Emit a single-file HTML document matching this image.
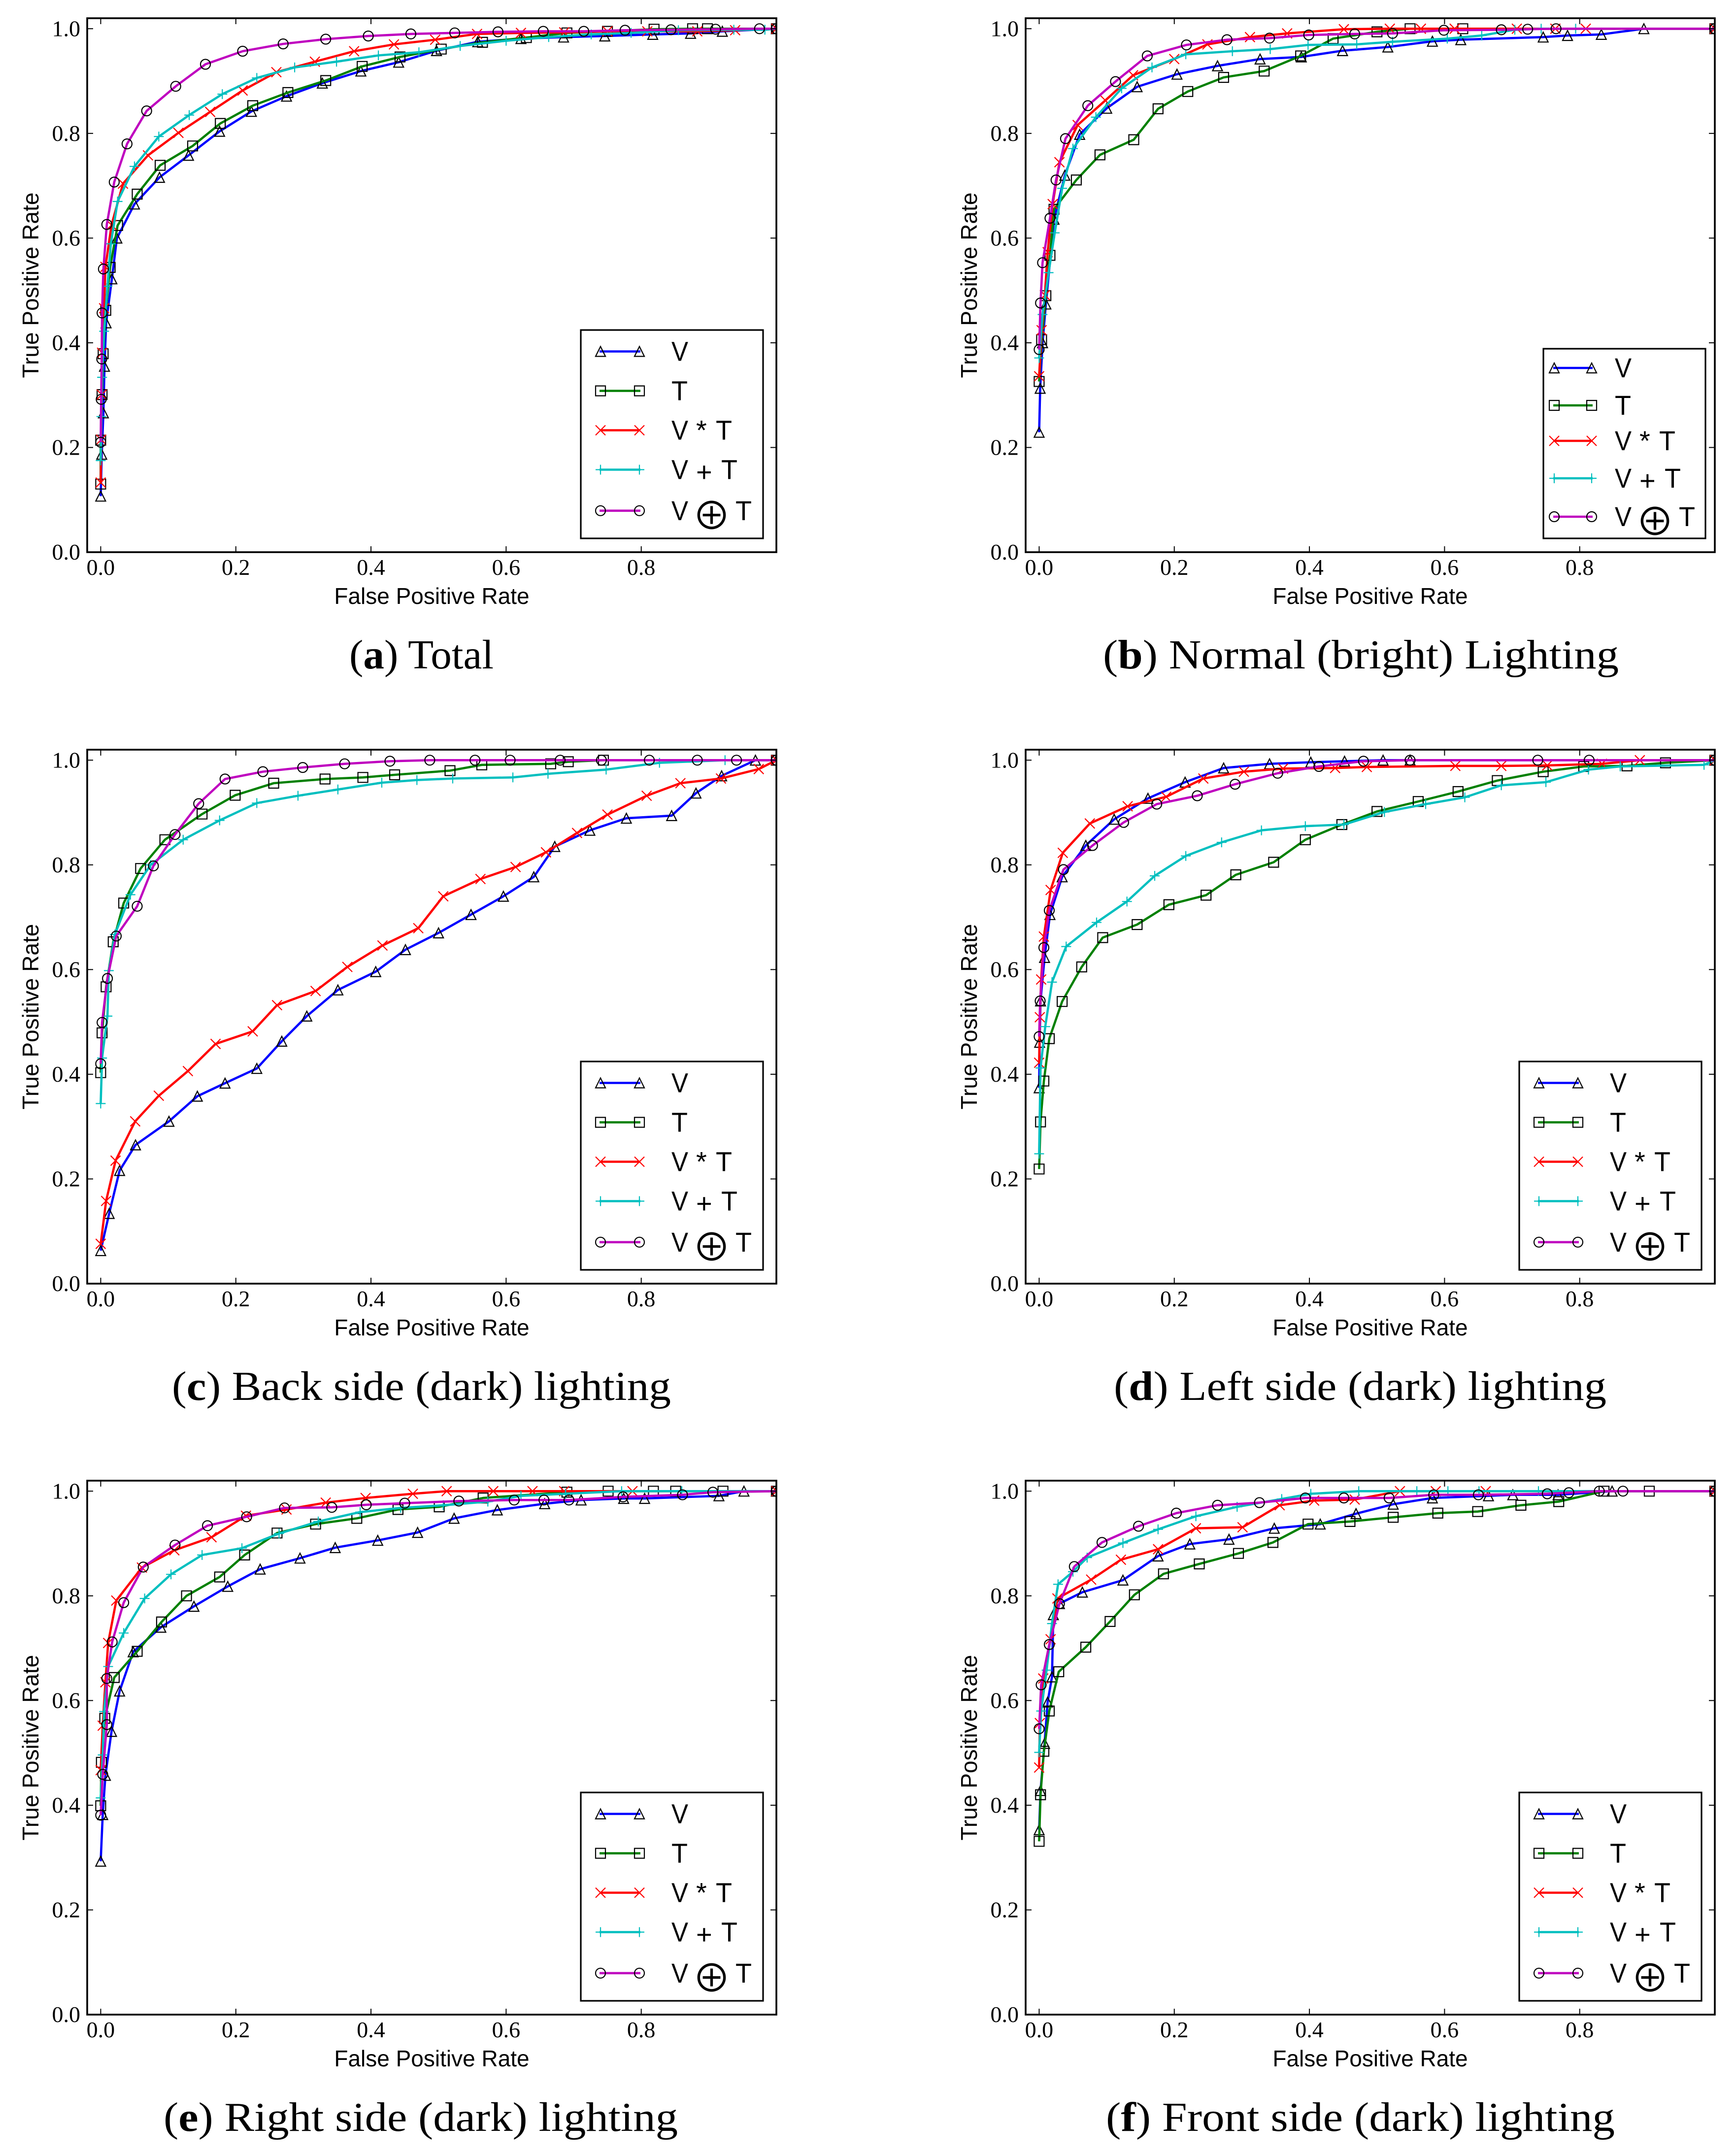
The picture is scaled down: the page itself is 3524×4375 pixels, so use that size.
<!DOCTYPE html>
<html lang="en">
<head>
<meta charset="utf-8">
<title>ROC curves under six lighting conditions</title>
<style>
html,body{margin:0;padding:0;background:#fff}
svg{display:block}
text{fill:#000}
.cap{font-family:"Liberation Serif",serif;font-size:84px}
</style>
</head>
<body>
<svg id="fig" xmlns="http://www.w3.org/2000/svg" width="3524" height="4375" viewBox="0 0 3524 4375">
<rect x="0" y="0" width="3524" height="4375" fill="#fff"/>
<text class="cap" x="709" y="1357" textLength="293" lengthAdjust="spacingAndGlyphs">(<tspan font-weight="bold">a</tspan>) Total</text>
<text class="cap" x="2239" y="1357" textLength="1047" lengthAdjust="spacingAndGlyphs">(<tspan font-weight="bold">b</tspan>) Normal (bright) Lighting</text>
<text class="cap" x="349" y="2842" textLength="1013" lengthAdjust="spacingAndGlyphs">(<tspan font-weight="bold">c</tspan>) Back side (dark) lighting</text>
<text class="cap" x="2261" y="2842" textLength="1000" lengthAdjust="spacingAndGlyphs">(<tspan font-weight="bold">d</tspan>) Left side (dark) lighting</text>
<text class="cap" x="332" y="4326" textLength="1044" lengthAdjust="spacingAndGlyphs">(<tspan font-weight="bold">e</tspan>) Right side (dark) lighting</text>
<text class="cap" x="2245" y="4326" textLength="1033" lengthAdjust="spacingAndGlyphs">(<tspan font-weight="bold">f</tspan>) Front side (dark) lighting</text>
</svg>
<script>
// ---------- tick values and labels ----------
const xTickValues=[0,0.2,0.4,0.6,0.8];
const xTickLabels=["0.0","0.2","0.4","0.6","0.8"];
const yTickValues=[0,0.2,0.4,0.6,0.8,1];
const yTickLabels=["0.0","0.2","0.4","0.6","0.8","1.0"];
const xAxisTitle="False Positive Rate";
const yAxisTitle="True Positive Rate";

// ---------- panel a: Total ----------
const a_V_fpr=[0,.0015,.004,.0056,.008,.0165,.024,.05,.087,.13,.176,.223,.275,.328,.385,.441,.497,.558,.622,.685,.746,.817,.873,.92,1];
const a_V_tpr=[.107,.187,.266,.355,.438,.522,.6,.665,.716,.758,.804,.842,.871,.896,.919,.936,.958,.975,.981,.984,.986,.989,.991,.995,1];
const a_T_fpr=[0,0,.002,.0036,.0075,.014,.025,.054,.088,.136,.177,.225,.277,.333,.387,.443,.504,.565,.63,.69,.75,.819,.876,.898,1];
const a_T_tpr=[.13,.214,.301,.379,.462,.544,.624,.684,.739,.776,.819,.853,.878,.901,.928,.946,.961,.974,.983,.992,.995,.999,1,1,1];
const a_VT_fpr=[0,.0007,.0015,.002,.005,.007,.016,.033,.07,.115,.162,.21,.26,.317,.375,.434,.495,.557,.622,.686,.75,.809,.883,.939,1];
const a_VT_tpr=[.133,.215,.301,.381,.466,.545,.625,.704,.758,.801,.841,.882,.917,.937,.957,.97,.979,.99,.992,.993,.995,.995,.995,.997,1];
const a_VpT_fpr=[0,.001,.002,.005,.01,.015,.025,.05,.086,.131,.18,.231,.287,.349,.411,.471,.532,.6,.663,.726,.785,.855,.937,.983,1];
const a_VpT_tpr=[.175,.259,.334,.422,.508,.589,.67,.737,.794,.835,.875,.906,.926,.937,.949,.955,.967,.977,.984,.989,.992,.997,.998,.998,1];
const a_VoT_fpr=[0,.0007,.0015,.002,.004,.009,.02,.039,.068,.111,.155,.21,.27,.333,.396,.459,.524,.588,.655,.715,.776,.844,.91,.975,1];
const a_VoT_tpr=[.21,.292,.369,.457,.541,.626,.707,.78,.843,.89,.932,.957,.971,.98,.986,.99,.992,.994,.995,.995,.997,.998,.999,1,1];

// ---------- panel b: Normal (bright) Lighting ----------
const b_V_fpr=[0,.0015,.005,.01,.022,.038,.06,.1,.145,.204,.264,.327,.388,.449,.516,.582,.624,.746,.782,.832,.895,1];
const b_V_tpr=[.229,.313,.4,.474,.636,.72,.798,.848,.889,.913,.929,.942,.946,.958,.965,.976,.979,.984,.987,.989,1,1];
const b_T_fpr=[0,.0036,.01,.016,.022,.055,.09,.14,.176,.22,.273,.333,.387,.435,.5,.549,.627,1];
const b_T_tpr=[.326,.406,.49,.567,.655,.711,.759,.788,.847,.88,.907,.919,.948,.981,.994,1,1,1];
const b_VT_fpr=[0,.0036,.0085,.0126,.02,.03,.057,.098,.139,.2,.249,.312,.367,.451,.519,.565,.615,.707,.764,.809,1];
const b_VT_tpr=[.336,.424,.491,.573,.665,.745,.816,.863,.911,.942,.97,.984,.991,.999,1,1,1,1,1,1,1];
const b_VpT_fpr=[0,.005,.014,.023,.034,.05,.084,.122,.167,.217,.286,.342,.398,.47,.523,.604,.655,.704,.743,.794,1];
const b_VpT_tpr=[.371,.454,.534,.61,.695,.771,.831,.886,.926,.951,.957,.961,.969,.97,.975,.981,.987,.998,1,1,1];
const b_VoT_fpr=[0,.002,.005,.016,.025,.039,.072,.113,.16,.218,.278,.341,.399,.467,.523,.599,.684,.723,.765,1];
const b_VoT_tpr=[.387,.476,.553,.638,.711,.79,.853,.899,.948,.969,.979,.982,.988,.99,.991,.997,.998,.999,1,1];

// ---------- panel c: Back side (dark) lighting ----------
const c_V_fpr=[0,.0125,.028,.0515,.101,.143,.184,.231,.268,.305,.351,.407,.451,.5,.548,.596,.641,.672,.724,.778,.845,.881,.919,.969,1];
const c_V_tpr=[.063,.134,.216,.265,.31,.358,.383,.411,.463,.511,.561,.596,.638,.67,.705,.74,.777,.835,.866,.889,.894,.937,.97,1,1];
const c_T_fpr=[0,.002,.008,.0185,.034,.059,.095,.15,.199,.256,.332,.388,.435,.517,.564,.666,.692,.744,1];
const c_T_tpr=[.403,.479,.567,.653,.727,.793,.848,.897,.933,.956,.964,.967,.972,.98,.991,.993,.997,1,1];
const c_VT_fpr=[0,.008,.022,.051,.086,.129,.17,.225,.261,.318,.365,.417,.47,.507,.562,.614,.659,.705,.75,.808,.858,.918,.974,1];
const c_VT_tpr=[.076,.158,.235,.31,.359,.406,.458,.482,.532,.559,.605,.646,.679,.74,.773,.796,.824,.861,.896,.932,.956,.965,.983,1];
const c_VpT_fpr=[0,.002,.01,.012,.021,.044,.074,.122,.176,.231,.292,.351,.416,.468,.521,.61,.662,.748,.827,.924,1];
const c_VpT_tpr=[.344,.431,.511,.598,.667,.743,.8,.848,.885,.918,.932,.944,.957,.962,.965,.967,.974,.982,.995,1,1];
const c_VoT_fpr=[0,.002,.01,.023,.054,.078,.11,.145,.184,.24,.299,.361,.428,.487,.554,.606,.68,.741,.812,.883,.941,1];
const c_VoT_tpr=[.42,.499,.583,.664,.721,.798,.858,.917,.964,.978,.986,.993,.998,1,1,1,1,1,1,1,1,1];

// ---------- panel d: Left side (dark) lighting ----------
const d_V_fpr=[0,.0007,.002,.008,.016,.034,.069,.111,.161,.216,.273,.341,.402,.452,.509,.549,1];
const d_V_tpr=[.374,.461,.54,.623,.705,.777,.837,.887,.927,.958,.985,.993,.996,.998,1,1,1];
const d_T_fpr=[0,.002,.007,.015,.034,.063,.094,.145,.192,.247,.291,.347,.394,.448,.5,.561,.62,.678,.746,.806,.87,.927,1];
const d_T_tpr=[.219,.309,.387,.468,.539,.605,.661,.686,.724,.742,.781,.805,.848,.877,.902,.921,.94,.961,.978,.988,.989,.995,1];
const d_VT_fpr=[0,.001,.003,.007,.017,.035,.075,.131,.188,.243,.303,.361,.438,.485,.616,.684,.752,.833,.889,1];
const d_VT_tpr=[.422,.509,.581,.663,.752,.823,.879,.912,.93,.965,.978,.984,.985,.987,.989,.989,.99,.993,1,1];
const d_VpT_fpr=[0,.002,.009,.019,.04,.085,.13,.171,.217,.27,.329,.394,.451,.511,.572,.63,.684,.75,.813,.86,.984,1];
const d_VpT_tpr=[.248,.412,.491,.576,.644,.69,.73,.779,.817,.843,.866,.874,.877,.901,.916,.929,.952,.958,.982,.988,.991,1];
const d_VoT_fpr=[0,.0015,.007,.015,.036,.079,.125,.174,.234,.29,.353,.414,.48,.549,.738,.814,1];
const d_VoT_tpr=[.472,.54,.642,.713,.791,.837,.881,.916,.932,.954,.975,.988,.998,1,1,1,1];

// ---------- panel e: Right side (dark) lighting ----------
const e_V_fpr=[0,.003,.007,.016,.028,.048,.089,.138,.188,.236,.295,.347,.41,.469,.523,.587,.657,.711,.774,.805,.915,.952,1];
const e_V_tpr=[.293,.382,.457,.541,.618,.693,.74,.78,.818,.851,.872,.892,.906,.921,.948,.964,.976,.983,.986,.986,.991,1,1];
const e_T_fpr=[0,.001,.006,.02,.054,.09,.127,.176,.213,.261,.318,.379,.44,.501,.566,.69,.751,.818,.851,.921,1];
const e_T_tpr=[.399,.482,.566,.644,.694,.75,.8,.836,.878,.92,.937,.948,.965,.97,.987,.998,1,1,1,1,1];
const e_VT_fpr=[0,.003,.007,.011,.023,.061,.109,.164,.215,.275,.333,.392,.462,.512,.581,.639,.686,.787,1];
const e_VT_tpr=[.467,.552,.635,.71,.791,.854,.887,.912,.953,.965,.978,.987,.995,1,1,1,1,1,1];
const e_VpT_fpr=[0,.003,.005,.011,.034,.065,.104,.15,.209,.264,.322,.384,.444,.507,.573,.622,.688,.771,.86,1];
const e_VpT_tpr=[.414,.496,.579,.665,.729,.795,.841,.878,.891,.919,.942,.96,.968,.973,.98,.991,.995,1,1,1];
const e_VoT_fpr=[0,.003,.009,.009,.017,.034,.063,.11,.158,.216,.272,.342,.393,.45,.53,.612,.656,.693,.773,.861,.906,1];
const e_VoT_tpr=[.381,.459,.554,.642,.712,.787,.855,.897,.934,.951,.968,.969,.974,.977,.981,.983,.983,.983,.989,.993,.998,1];

// ---------- panel f: Front side (dark) lighting ----------
const f_V_fpr=[0,.002,.008,.0125,.019,.021,.03,.064,.124,.176,.223,.281,.348,.416,.469,.524,.582,.665,.701,.768,.848,1];
const f_V_tpr=[.353,.428,.518,.597,.645,.764,.785,.807,.83,.876,.899,.908,.929,.937,.957,.975,.987,.991,.993,.993,1,1];
const f_T_fpr=[0,.002,.007,.015,.029,.069,.105,.141,.184,.237,.295,.346,.398,.46,.524,.59,.649,.713,.769,.836,.903,1];
const f_T_tpr=[.331,.42,.503,.58,.655,.702,.751,.802,.842,.861,.881,.902,.937,.942,.95,.958,.961,.973,.98,1,1,1];
const f_VT_fpr=[0,.001,.006,.017,.027,.077,.121,.176,.232,.301,.356,.407,.467,.534,.587,.661,1];
const f_VT_tpr=[.472,.557,.642,.717,.795,.831,.869,.889,.929,.931,.973,.982,.984,1,1,1,1];
const f_VpT_fpr=[0,.003,.011,.019,.028,.05,.071,.124,.176,.232,.293,.359,.402,.473,.559,.605,.651,.739,1];
const f_VpT_tpr=[.501,.58,.658,.747,.822,.846,.873,.901,.927,.952,.97,.985,.995,1,1,1,1,1,1];
const f_VoT_fpr=[0,.003,.015,.03,.052,.093,.147,.203,.264,.326,.394,.451,.518,.584,.65,.752,.784,.829,.864,1];
const f_VoT_tpr=[.546,.63,.707,.785,.856,.902,.933,.958,.973,.978,.987,.987,.987,.993,.993,.995,.997,1,1,1];

// ---------- axis limits ----------
const XMIN=-0.02, XMAX=1.0, YMIN=0, YMAX=1.02;
const PW=1399, PH=1084;
const NS="http://www.w3.org/2000/svg";
const svg=document.getElementById('fig');

const styles={
  V:  {color:'#0000ff',marker:'triangle',edge:'#000'},
  T:  {color:'#008000',marker:'square',edge:'#000'},
  VT: {color:'#ff0000',marker:'x',edge:'#ff0000'},
  VpT:{color:'#00bfbf',marker:'plus',edge:'#00bfbf'},
  VoT:{color:'#bf00bf',marker:'circle',edge:'#000'}
};
const seriesOrder=['V','T','VT','VpT','VoT'];

const wideLegend={dx:1002,dy:633,w:370,h:423,rows:[43.5,123.5,203.5,283.5,366.8],h0:40,h1:119,tx:184};
const panels=[
 {id:'a',left:177,top:37,legend:wideLegend,data:{V:[a_V_fpr,a_V_tpr],T:[a_T_fpr,a_T_tpr],VT:[a_VT_fpr,a_VT_tpr],VpT:[a_VpT_fpr,a_VpT_tpr],VoT:[a_VoT_fpr,a_VoT_tpr]}},
 {id:'b',left:2082,top:37,legend:{dx:1051,dy:671,w:329,h:385,rows:[39,115,187,263,341],h0:22,h1:98,tx:145},data:{V:[b_V_fpr,b_V_tpr],T:[b_T_fpr,b_T_tpr],VT:[b_VT_fpr,b_VT_tpr],VpT:[b_VpT_fpr,b_VpT_tpr],VoT:[b_VoT_fpr,b_VoT_tpr]}},
 {id:'c',left:177,top:1522,legend:wideLegend,data:{V:[c_V_fpr,c_V_tpr],T:[c_T_fpr,c_T_tpr],VT:[c_VT_fpr,c_VT_tpr],VpT:[c_VpT_fpr,c_VpT_tpr],VoT:[c_VoT_fpr,c_VoT_tpr]}},
 {id:'d',left:2082,top:1522,legend:wideLegend,data:{V:[d_V_fpr,d_V_tpr],T:[d_T_fpr,d_T_tpr],VT:[d_VT_fpr,d_VT_tpr],VpT:[d_VpT_fpr,d_VpT_tpr],VoT:[d_VoT_fpr,d_VoT_tpr]}},
 {id:'e',left:177,top:3006,legend:wideLegend,data:{V:[e_V_fpr,e_V_tpr],T:[e_T_fpr,e_T_tpr],VT:[e_VT_fpr,e_VT_tpr],VpT:[e_VpT_fpr,e_VpT_tpr],VoT:[e_VoT_fpr,e_VoT_tpr]}},
 {id:'f',left:2082,top:3006,legend:wideLegend,data:{V:[f_V_fpr,f_V_tpr],T:[f_T_fpr,f_T_tpr],VT:[f_VT_fpr,f_VT_tpr],VpT:[f_VpT_fpr,f_VpT_tpr],VoT:[f_VoT_fpr,f_VoT_tpr]}}
];

function sx(p,v){return p.left+(v-XMIN)/(XMAX-XMIN)*PW;}
function sy(p,v){return p.top+(YMAX-v)/(YMAX-YMIN)*PH;}
function make(tag,parent){const e=document.createElementNS(NS,tag);parent.appendChild(e);return e;}

function drawMarker(parent,kind,x,y,edge){
  const m=make('path',parent);
  
  
  const r=10;let d='';
  if(kind==='triangle') d=`M${x} ${y-r}L${x-r} ${y+r}L${x+r} ${y+r}Z`;
  if(kind==='square') d=`M${x-r} ${y-r}H${x+r}V${y+r}H${x-r}Z`;
  if(kind==='circle') d=`M${x-r} ${y}A${r} ${r} 0 1 1 ${x+r} ${y}A${r} ${r} 0 1 1 ${x-r} ${y}Z`;
  if(kind==='x') d=`M${x-r} ${y-r}L${x+r} ${y+r}M${x-r} ${y+r}L${x+r} ${y-r}`;
  if(kind==='plus') d=`M${x-r} ${y}H${x+r}M${x} ${y-r}V${y+r}`;
  m.setAttribute('d',d);
  m.setAttribute('fill','none');
  m.setAttribute('stroke',edge);
  m.setAttribute('stroke-width','2.2');
}

function glyph(parent,str,x,y,len){
  const t=make('text',parent);
  
  
  t.setAttribute('x',x);
  t.setAttribute('y',y);
  t.setAttribute('font-family','"Liberation Sans",sans-serif');
  t.setAttribute('font-size','56');
  if(len){t.setAttribute('textLength',len);t.setAttribute('lengthAdjust','spacingAndGlyphs');}
  t.textContent=str;
  return t;
}

panels.forEach(function(p){
  const g=make('g',svg);
  
  

  const defs=make('defs',g);
  const clip=make('clipPath',defs);
  clip.setAttribute('id','clip-'+p.id);
  const cr=make('rect',clip);
  cr.setAttribute('x',p.left);cr.setAttribute('y',p.top);cr.setAttribute('width',PW);cr.setAttribute('height',PH);

  // series
  const plot=make('g',g);
  
  
  plot.setAttribute('clip-path','url(#clip-'+p.id+')');
  seriesOrder.forEach(function(key){
    const st=styles[key];
    const fpr=p.data[key][0], tpr=p.data[key][1];
    const sg=make('g',plot);
    
    
    const line=make('polyline',sg);
    
    
    line.setAttribute('points',fpr.map(function(v,i){return sx(p,v).toFixed(1)+','+sy(p,tpr[i]).toFixed(1);}).join(' '));
    line.setAttribute('fill','none');
    line.setAttribute('stroke',st.color);
    line.setAttribute('stroke-width','4.6');
    line.setAttribute('stroke-linejoin','round');
    fpr.forEach(function(v,i){drawMarker(sg,st.marker,+sx(p,v).toFixed(1),+sy(p,tpr[i]).toFixed(1),st.edge);});
  });

  // frame
  const frame=make('rect',g);
  
  
  frame.setAttribute('x',p.left);frame.setAttribute('y',p.top);
  frame.setAttribute('width',PW);frame.setAttribute('height',PH);
  frame.setAttribute('fill','none');frame.setAttribute('stroke','#000');frame.setAttribute('stroke-width','3.6');

  // x ticks
  xTickValues.forEach(function(v,i){
    const x=sx(p,v);
    [[p.top+PH,p.top+PH-12],[p.top,p.top+12]].forEach(function(e){
      const t=make('line',g);
      
      
      t.setAttribute('x1',x);t.setAttribute('x2',x);t.setAttribute('y1',e[0]);t.setAttribute('y2',e[1]);
      t.setAttribute('stroke','#000');t.setAttribute('stroke-width','2');
    });
    const l=make('text',g);
    
    
    l.setAttribute('x',x);l.setAttribute('y',p.top+PH+46);
    l.setAttribute('text-anchor','middle');
    l.setAttribute('font-family','"Liberation Serif",serif');l.setAttribute('font-size','46');
    l.textContent=xTickLabels[i];
  });

  // y ticks
  yTickValues.forEach(function(v,i){
    const y=sy(p,v);
    [[p.left,p.left+12],[p.left+PW,p.left+PW-12]].forEach(function(e){
      const t=make('line',g);
      
      
      t.setAttribute('x1',e[0]);t.setAttribute('x2',e[1]);t.setAttribute('y1',y);t.setAttribute('y2',y);
      t.setAttribute('stroke','#000');t.setAttribute('stroke-width','2');
    });
    const l=make('text',g);
    
    
    l.setAttribute('x',p.left-14);l.setAttribute('y',y+15);
    l.setAttribute('text-anchor','end');
    l.setAttribute('font-family','"Liberation Serif",serif');l.setAttribute('font-size','46');
    l.textContent=yTickLabels[i];
  });

  // axis titles
  const xt=make('text',g);
  
  
  xt.setAttribute('x',p.left+PW/2);xt.setAttribute('y',p.top+PH+105);
  xt.setAttribute('text-anchor','middle');
  xt.setAttribute('font-family','"Liberation Sans",sans-serif');xt.setAttribute('font-size','46');
  xt.textContent=xAxisTitle;
  const yt=make('text',g);
  
  
  yt.setAttribute('transform','translate('+(p.left-99)+','+(p.top+PH/2)+') rotate(-90)');
  yt.setAttribute('text-anchor','middle');
  yt.setAttribute('font-family','"Liberation Sans",sans-serif');yt.setAttribute('font-size','46');
  yt.textContent=yAxisTitle;

  // legend
  const L=p.legend, lx=p.left+L.dx, ly=p.top+L.dy;
  const lg=make('g',g);
  
  
  const box=make('rect',lg);
  
  
  box.setAttribute('x',lx);box.setAttribute('y',ly);box.setAttribute('width',L.w);box.setAttribute('height',L.h);
  box.setAttribute('fill','#fff');box.setAttribute('stroke','#000');box.setAttribute('stroke-width','3.2');
  seriesOrder.forEach(function(key,i){
    const st=styles[key];
    const ry=ly+L.rows[i];
    const eg=make('g',lg);
    
    
    const h=make('line',eg);
    
    
    h.setAttribute('x1',lx+L.h0-2);h.setAttribute('x2',lx+L.h1+2);h.setAttribute('y1',ry);h.setAttribute('y2',ry);
    h.setAttribute('stroke',st.color);h.setAttribute('stroke-width','4.6');
    drawMarker(eg,st.marker,lx+L.h0,ry,st.edge);
    drawMarker(eg,st.marker,lx+L.h1,ry,st.edge);
    const tx=lx+L.tx, by=ry+19;
    if(key==='V'){glyph(eg,'V',tx,by,34);}
    if(key==='T'){glyph(eg,'T',tx,by,33);}
    if(key==='VT'){glyph(eg,'V',tx,by,34);glyph(eg,'*',tx+50,by);glyph(eg,'T',tx+90,by,33);}
    if(key==='VpT'){glyph(eg,'V',tx,by,34);glyph(eg,'+',tx+50,by+5);glyph(eg,'T',tx+101,by,33);}
    if(key==='VoT'){
      glyph(eg,'V',tx,by,34);
      const o=make('text',eg);
      
      
      o.setAttribute('x',tx+81.5);o.setAttribute('y',ry+38);
      o.setAttribute('text-anchor','middle');
      o.setAttribute('font-family','"Noto Sans CJK JP","DejaVu Sans",sans-serif');o.setAttribute('font-size','78');
      o.textContent='\u2295';
      glyph(eg,'T',tx+130,by,33);
    }
  });
});
</script>
</body>
</html>
